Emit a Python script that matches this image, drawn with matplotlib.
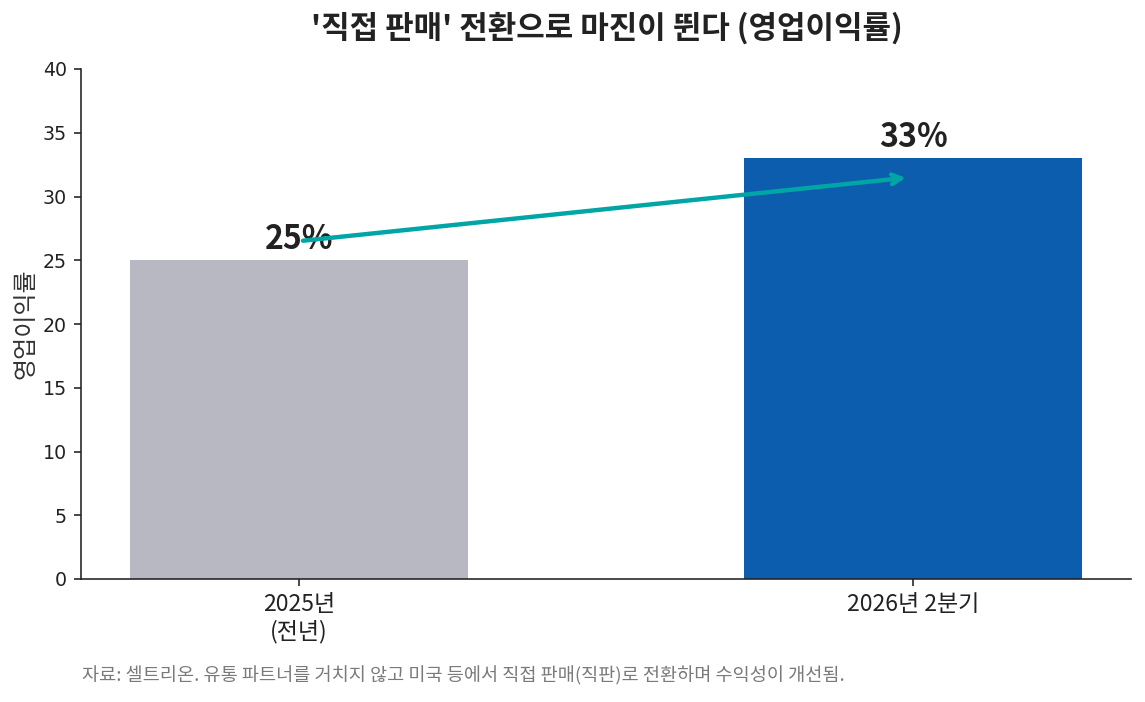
import matplotlib
matplotlib.use("Agg")
import matplotlib.pyplot as plt

plt.rcParams['font.family'] = ['Noto Sans CJK KR', 'DejaVu Sans']

categories = ["2025년\n(전년)", "2026년 2분기"]
values = [25, 33]
colors = ["#B8B8C2", "#0C5DAD"]
value_labels = ["25%", "33%"]
title = "'직접 판매' 전환으로 마진이 뛴다 (영업이익률)"
ylabel = "영업이익률"
footnote = "자료: 셀트리온. 유통 파트너를 거치지 않고 미국 등에서 직접 판매(직판)로 전환하며 수익성이 개선됨."

fig = plt.figure(figsize=(1145/144, 702/144), dpi=144)
ax = fig.add_axes([81/1145, 1-579/702, (1131-81)/1145, (579-69)/702])

x = list(range(len(categories)))
ax.bar(x, values, width=0.55, color=colors, zorder=2)
ax.set_xlim(-0.355, 1.355)
ax.set_ylim(0, 40)
ax.set_yticks(range(0, 41, 5))
ax.set_xticks(x)
ax.set_xticklabels(categories, fontsize=11.5, color="#222222")
ax.tick_params(axis='y', labelsize=9.5, colors="#222222")
for lbl in ax.get_yticklabels():
    lbl.set_family(['DejaVu Sans'])
ax.tick_params(axis='both', color="#222222")
for s in ["top", "right"]:
    ax.spines[s].set_visible(False)
for s in ["left", "bottom"]:
    ax.spines[s].set_color("#222222")

for xi, v, t in zip(x, values, value_labels):
    ax.text(xi, v + 0.3, t, ha="center", va="bottom", fontsize=16, fontweight="bold", color="#222222", zorder=3)

ax.annotate("", xy=(0.995, values[1] - 1.5), xytext=(0, values[0] + 1.5),
            arrowprops=dict(arrowstyle="->", color="#00A5A5", lw=2.2, mutation_scale=12), zorder=4)

ax.set_ylabel(ylabel, fontsize=12, color="#333333", labelpad=2)
fig.suptitle(title, fontsize=15.5, fontweight="bold", color="#222222", x=607/1145, y=1-28/702, va="center")
fig.text(82/1145, 1-676/702, footnote, fontsize=9.3, color="#7a7a7a", va="center", ha="left")

fig.savefig("out.png", dpi=144)
